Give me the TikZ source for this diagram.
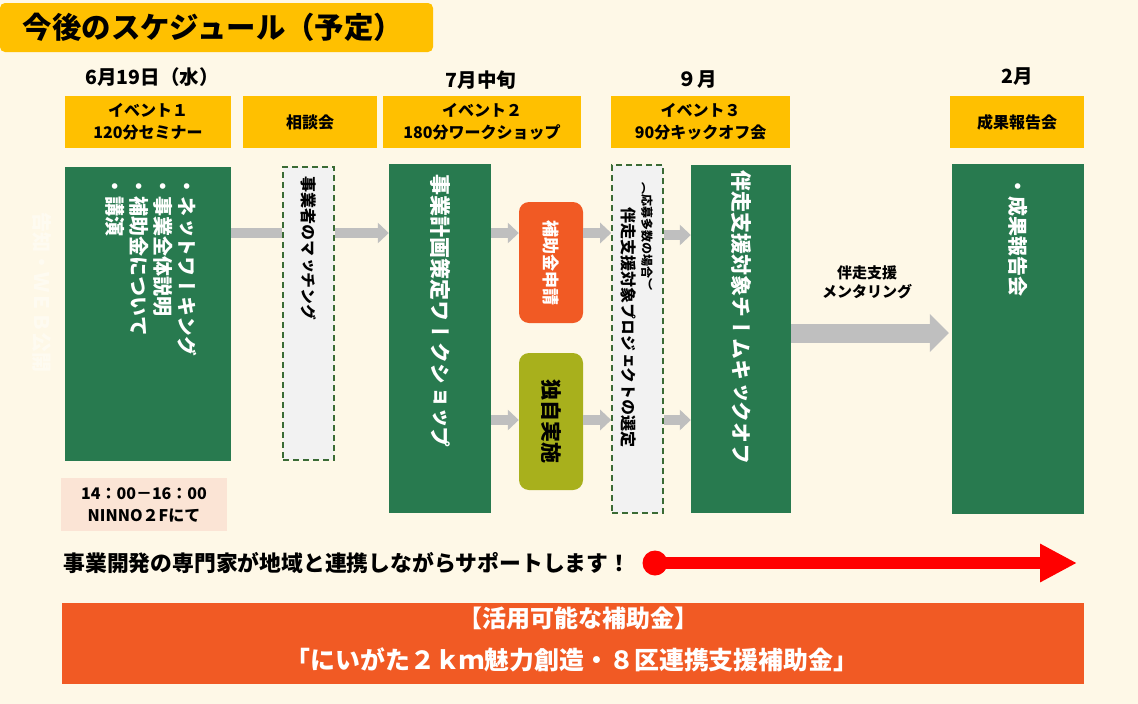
\documentclass[tikz,border=0pt]{standalone}
\usepackage{fontspec}
\setmainfont{Noto Sans CJK JP}
\newfontfamily\vjp[Vertical=RotatedGlyphs]{Noto Sans CJK JP}
\usetikzlibrary{arrows.meta}
\definecolor{cream}{HTML}{FEF8E7}
\definecolor{gold}{HTML}{FFC000}
\definecolor{dgreen}{HTML}{287A4F}
\definecolor{orng}{HTML}{F15A24}
\definecolor{olivebox}{HTML}{A8B01C}
\definecolor{lgray}{HTML}{F2F2F2}
\definecolor{dashg}{HTML}{3A6B35}
\definecolor{arrowgray}{HTML}{BFBFBF}
\definecolor{pinkbg}{HTML}{FBE4D5}
\begin{document}
\begin{tikzpicture}[x=1pt,y=-1pt,
  hdr/.style={fill=gold, inner sep=0, align=center, font=\fontsize{16}{22}\selectfont\bfseries},
  datel/.style={font=\fontsize{19.5}{22}\selectfont\bfseries},
  gbox/.style={fill=dgreen, inner sep=0},
  dbox/.style={fill=lgray, draw=dashg, line width=1.6pt, dash pattern=on 6pt off 4pt, inner sep=0},
  rbox/.style={rounded corners=10pt, inner sep=0},
  vtext/.style={rotate=-90, inner sep=0},
  garrow/.style={draw=arrowgray, line width=10pt, -{Triangle[width=20pt,length=11pt]}},
  gbar/.style={draw=arrowgray, line width=10pt},
  bigarrow/.style={draw=arrowgray, line width=19pt, -{Triangle[width=37pt,length=19pt]}},
  redarrow/.style={draw=red, line width=12pt, -{Triangle[width=36pt,length=37pt]}}
]
\useasboundingbox (0,0) rectangle (1138,704);
\fill[cream] (0,0) rectangle (1138,704);
% title
\fill[gold, rounded corners=5pt] (0,3) rectangle (433,52);
\node[font=\fontsize{29.4}{32}\selectfont\bfseries] (title) at (213,27) {今後のスケジュール（予定）};
% faint side text
\node[vtext, anchor=west, text=white, text opacity=0.45, font=\vjp\fontsize{20}{24}\selectfont\bfseries] (faint) at (42,212) {告知・ＷＥＢ公開};
% dates
\node[datel] (d619) at (152,77) {6月19日（水）};
\node[datel] (d7) at (481,80) {7月中旬};
\node[datel] (d9) at (697,80) {９月};
\node[datel] (d2m) at (1017,77) {2月};
% headers
\node[hdr, minimum width=166, minimum height=52] (h1) at (148,122) {イベント１\\120分セミナー};
\node[hdr, minimum width=134, minimum height=52] (h2) at (310,122) {相談会};
\node[hdr, minimum width=198, minimum height=52] (h3) at (482,122) {イベント２\\180分ワークショップ};
\node[hdr, minimum width=179, minimum height=52] (h4) at (700.5,122) {イベント３\\90分キックオフ会};
\node[hdr, minimum width=134, minimum height=52] (h5) at (1017,122) {成果報告会};
% boxes
\node[gbox, minimum width=166, minimum height=294] (g1) at (148,314) {};
\node[dbox, minimum width=51, minimum height=293] (d1) at (308.5,313.5) {};
\node[gbox, minimum width=102, minimum height=349] (g2) at (440,338.5) {};
\node[rbox, fill=orng, minimum width=64, minimum height=121] (ob) at (551,262.5) {};
\node[rbox, fill=olivebox, minimum width=64, minimum height=137] (ol) at (551,421.5) {};
\node[dbox, minimum width=51, minimum height=348] (d2) at (637.5,339) {};
\node[gbox, minimum width=100, minimum height=348] (g3) at (741,339) {};
\node[gbox, minimum width=132, minimum height=350] (g4) at (1018,339) {};
\node[fill=pinkbg, minimum width=166, minimum height=53, inner sep=0, align=center, font=\fontsize{16}{22}\selectfont\bfseries] (pink) at (144,504.5) {14：00－16：00\\NINNO２Fにて};
% vertical texts
\node[vtext, anchor=north west, align=left, text=white, font=\vjp\fontsize{20}{24}\selectfont\bfseries] (g1t) at (197,176) {・ネットワーキング\\・事業全体説明\\・補助金について\\・講演};
\node[vtext, anchor=west, text=black, font=\vjp\fontsize{16}{20}\selectfont\bfseries] (d1t) at (308.5,176) {事業者のマッチング};
\node[vtext, anchor=west, text=white, font=\vjp\fontsize{21}{24}\selectfont\bfseries] (g2t) at (440,174) {事業計画策定ワークショップ};
\node[vtext, text=white, font=\vjp\fontsize{17}{20}\selectfont\bfseries] (obt) at (551,263) {補助金申請};
\node[vtext, text=black, font=\vjp\fontsize{21}{24}\selectfont\bfseries] (olt) at (551,421) {独自実施};
\node[vtext, anchor=west, text=black, font=\vjp\fontsize{12}{14}\selectfont\bfseries] (d2s) at (647,182) {（応募多数の場合）};
\node[vtext, anchor=west, text=black, font=\vjp\fontsize{16}{20}\selectfont\bfseries] (d2t) at (629,207) {伴走支援対象プロジェクトの選定};
\node[vtext, anchor=west, text=white, font=\vjp\fontsize{21}{24}\selectfont\bfseries] (g3t) at (741,170) {伴走支援対象チームキックオフ};
\node[vtext, anchor=west, text=white, font=\vjp\fontsize{20}{24}\selectfont\bfseries] (g4t) at (1018,176) {・成果報告会};
% arrows
\draw[gbar] (g1.east |- 0,233) -- (d1.west |- 0,233);
\draw[garrow] (d1.east |- 0,233) -- (g2.west |- 0,233);
\draw[garrow] (g2.east |- 0,233) -- (ob.west |- 0,233);
\draw[garrow] (g2.east |- 0,420) -- (ol.west |- 0,420);
\draw[garrow] (ob.east |- 0,233) -- (d2.west |- 0,233);
\draw[garrow] (ol.east |- 0,420) -- (d2.west |- 0,420);
\draw[garrow] (d2.east |- 0,235) -- (g3.west |- 0,235);
\draw[garrow] (d2.east |- 0,420) -- (g3.west |- 0,420);
\draw[bigarrow] (g3.east |- 0,333) -- ([xshift=-3pt]g4.west |- 0,333);
\node[align=center, font=\fontsize{15}{19}\selectfont\bfseries] (ment) at (867,282) {伴走支援\\メンタリング};
% support line
\node[anchor=west, font=\fontsize{21.8}{24}\selectfont\bfseries] (sup) at (60,563) {事業開発の専門家が地域と連携しながらサポートします！};
\node[circle, fill=red, minimum size=25, inner sep=0] (rs) at (655,563) {};
\coordinate (re) at (1077,563);
\draw[redarrow] (rs.center) -- (re);
% bottom box
\node[fill=orng, minimum width=1022, minimum height=81, inner sep=0] (sub) at (573,643.5) {};
\node[text=white, font=\fontsize{24}{26}\selectfont\bfseries] (subt1) at (578,618) {【活用可能な補助金】};
\node[text=white, font=\fontsize{24.9}{27}\selectfont\bfseries] (subt2) at (572,660) {「にいがた２ｋｍ魅力創造・８区連携支援補助金」};
\end{tikzpicture}
\end{document}
